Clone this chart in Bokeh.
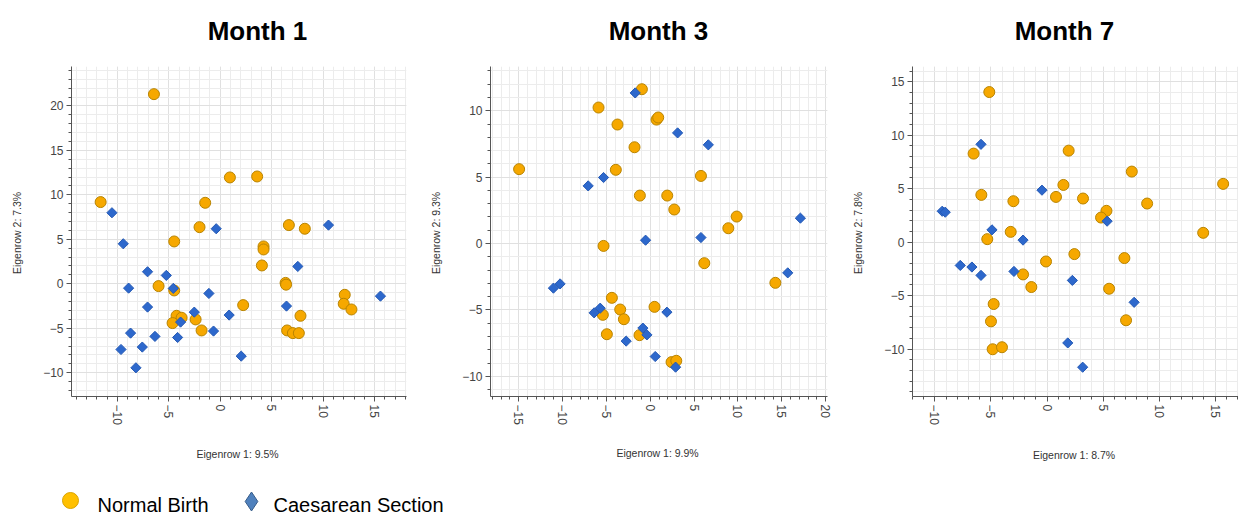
from bokeh.plotting import figure
from bokeh.layouts import column, row
from bokeh.models import Range1d, SingleIntervalTicker
from bokeh.core.properties import value
from bokeh.embed import file_html
from bokeh.resources import INLINE
import math

# ---------------- data ----------------
titles = ["Month 1", "Month 3", "Month 7"]
x_labels = ["Eigenrow 1:  9.5%", "Eigenrow 1:  9.9%", "Eigenrow 1:  8.7%"]
y_labels = ["Eigenrow 2:  7.3%", "Eigenrow 2:  9.3%", "Eigenrow 2:  7.8%"]
legend_labels = ["Normal Birth", "Caesarean Section"]

# Month 1
m1_nb_x = [-6.44, -11.62, 0.94, 3.59, -1.46, -2.01, -4.47, 6.67, 8.22, 4.21, 4.21, 4.05,
           6.35, 6.4, -5.99, -4.47, 2.23, 12.1, 12.0, 12.75, 7.8, -4.24, -3.75, -4.63,
           -2.39, -1.81, 6.5, 7.06, 7.64]
m1_nb_y = [21.33, 9.19, 11.96, 12.07, 9.11, 6.37, 4.76, 6.6, 6.19, 4.2, 3.86, 2.06,
           0.1, -0.1, -0.26, -0.75, -2.4, -1.24, -2.25, -2.89, -3.6, -3.6, -3.82, -4.42,
           -4.01, -5.25, -5.25, -5.55, -5.55]
m1_cs_x = [-10.52, -9.42, -0.39, 10.52, -7.06, -5.24, -8.9, -4.56, -1.1, 7.54, 15.57,
           -7.06, 6.44, -2.52, 0.87, -3.85, -8.71, -6.34, -4.14, -0.65, -9.64, -7.57,
           2.04, -8.19]
m1_cs_y = [7.99, 4.5, 6.19, 6.6, 1.35, 0.94, -0.49, -0.52, -1.09, 1.95, -1.39,
           -2.62, -2.51, -3.19, -3.52, -4.31, -5.55, -5.92, -6.04, -5.32, -7.39, -7.12,
           -8.14, -9.45]

# Month 3
m3_nb_x = [-0.95, -5.89, 0.72, 0.91, -3.73, -1.79, -14.94, -3.92, 5.78, -1.18, 1.94,
           2.74, 9.85, 8.9, -5.32, 6.16, 14.26, -4.37, -3.42, -5.4, -3.0, 0.49, -4.94,
           -1.22, 2.43, 2.97]
m3_nb_y = [11.62, 10.24, 9.33, 9.49, 8.96, 7.25, 5.6, 5.55, 5.09, 3.61, 3.61,
           2.56, 2.03, 1.15, -0.18, -1.48, -2.96, -4.09, -4.97, -5.37, -5.7, -4.77, -6.83,
           -6.9, -8.93, -8.83]
m3_cs_x = [-1.71, 3.12, 6.62, -7.07, -5.32, -0.53, 5.78, 17.11, -11.03, -10.27, 15.67,
           -6.39, -5.7, 1.9, -0.84, -0.38, -2.74, 0.57, 2.89]
m3_cs_y = [11.34, 8.33, 7.43, 4.34, 4.97, 0.25, 0.45, 1.91, -3.36, -3.04, -2.21,
           -5.22, -4.87, -5.17, -6.37, -6.88, -7.35, -8.51, -9.31]

# Month 7
m7_nb_x = [-5.15, -6.55, 1.93, 7.56, 15.71, -5.86, 1.46, 0.8, 3.21, -3.0, 8.93, 5.3,
           4.82, 13.93, -3.24, -5.33, -0.09, 2.44, 6.9, -2.14, -1.4, 5.54, -4.76, -5.0,
           7.05, -4.85, -4.02]
m7_nb_y = [14.04, 8.28, 8.56, 6.6, 5.45, 4.42, 5.35, 4.23, 4.08, 3.83, 3.61, 2.93,
           2.3, 0.87, 0.96, 0.28, -1.81, -1.12, -1.49, -3.02, -4.2, -4.36, -5.79, -7.41,
           -7.31, -10.02, -9.83]
m7_cs_x = [-5.89, -0.45, -9.35, -9.08, -4.91, -2.14, 5.36, -7.74, -6.7, -5.89, -2.95,
           2.26, 7.77, 1.85, 3.18]
m7_cs_y = [9.15, 4.86, 2.89, 2.8, 1.15, 0.19, 1.96, -2.18, -2.33, -3.11, -2.74,
           -3.58, -5.63, -9.43, -11.7]

# ---------------- styling ----------------
FONT = "Liberation Sans"
NB_FILL, NB_LINE = "#F6A800", "#B98400"
CS_FILL, CS_LINE = "#2D68CC", "#2459B5"
TOTAL_W = 1238
HEAD_H = 50
ROW_H = 420
LEG_H = 47
BT, BB = 16, 74

panels = [
    dict(xl=x_labels[0], yl=y_labels[0], xr=(-14.45, 18.1), yr=(-12.68, 24.44),
         width=427, bl=71, br=21, xls=20,
         nbx=m1_nb_x, nby=m1_nb_y, csx=m1_cs_x, csy=m1_cs_y),
    dict(xl=x_labels[1], yl=y_labels[1], xr=(-18.2, 20.2), yr=(-11.52, 13.33),
         width=422, bl=63, br=22, xls=19,
         nbx=m3_nb_x, nby=m3_nb_y, csx=m3_cs_x, csy=m3_cs_y),
    dict(xl=x_labels[2], yl=y_labels[2], xr=(-12.0, 17.08), yr=(-14.44, 16.43),
         width=389, bl=63, br=0, xls=21,
         nbx=m7_nb_x, nby=m7_nb_y, csx=m7_cs_x, csy=m7_cs_y),
]


def strip(height):
    f = figure(width=TOTAL_W, height=height, x_range=Range1d(0, TOTAL_W), y_range=Range1d(height, 0),
               output_backend="svg", toolbar_location=None,
               x_axis_location=None, y_axis_location=None,
               min_border=0, min_border_left=0, min_border_right=0,
               min_border_top=0, min_border_bottom=0)
    f.outline_line_color = None
    f.xgrid.visible = False
    f.ygrid.visible = False
    return f


def make_panel(d):
    p = figure(width=d["width"], height=ROW_H,
               x_range=Range1d(*d["xr"]), y_range=Range1d(*d["yr"]),
               output_backend="svg", toolbar_location=None,
               min_border_left=d["bl"], min_border_right=d["br"],
               min_border_top=BT, min_border_bottom=BB,
               background_fill_color="white", border_fill_color="white")
    p.outline_line_color = None

    for ax in (p.xaxis[0], p.yaxis[0]):
        ax.ticker = SingleIntervalTicker(interval=5, num_minor_ticks=5)
        ax.axis_line_color = "#555555"
        ax.major_tick_line_color = "#555555"
        ax.minor_tick_line_color = "#555555"
        ax.major_tick_in = 0
        ax.major_tick_out = 5
        ax.minor_tick_in = 0
        ax.minor_tick_out = 3
        ax.major_label_text_font = FONT
        ax.major_label_text_font_size = "12px"
        ax.major_label_text_color = "#444444"
        ax.axis_label_text_font = FONT
        ax.axis_label_text_font_size = "10.5px"
        ax.axis_label_text_font_style = "normal"
        ax.axis_label_text_color = "#333333"
        ax.major_label_standoff = 3
    p.xaxis[0].axis_label = d["xl"]
    p.yaxis[0].axis_label = d["yl"]
    p.xaxis[0].major_label_orientation = "vertical"
    p.xaxis[0].axis_label_standoff = d["xls"]
    p.yaxis[0].axis_label_standoff = 17

    for g in (p.xgrid[0], p.ygrid[0]):
        g.ticker = SingleIntervalTicker(interval=5, num_minor_ticks=5)
        g.grid_line_color = "#e0e0e0"
        g.grid_line_width = 1
        g.minor_grid_line_color = "#ececec"
        g.minor_grid_line_width = 1

    p.scatter(d["nbx"], d["nby"], marker="circle", size=11,
              fill_color=NB_FILL, line_color=NB_LINE, line_width=1)
    p.scatter(d["csx"], d["csy"], marker="square", size=7.2, angle=math.pi / 4,
              fill_color=CS_FILL, line_color=CS_LINE, line_width=1)
    return p


# header with the three panel titles
head = strip(HEAD_H)
head.text(x=[257, 658, 1064], y=[30, 30, 30], text=titles, text_font=value(FONT),
          text_font_size="26px", text_font_style="bold", text_color="#000000",
          text_align="center", text_baseline="middle")

plots = [make_panel(d) for d in panels]

# legend strip
leg = strip(LEG_H)
leg.scatter([70], [30], marker="circle", size=16, fill_color="#FFC000", line_color="#D9A300", line_width=1)
leg.scatter([251], [31], marker="diamond", size=19, fill_color="#4F81BD", line_color="#385D8A", line_width=1)
leg.text(x=[97, 273], y=[34, 34], text=legend_labels, text_font=value(FONT),
         text_font_size="20px", text_color="#000000", text_baseline="middle", text_align="left")

layout = column(head, row(*plots, spacing=0), leg, spacing=0)

open("out.html", "w").write(file_html(layout, INLINE))
